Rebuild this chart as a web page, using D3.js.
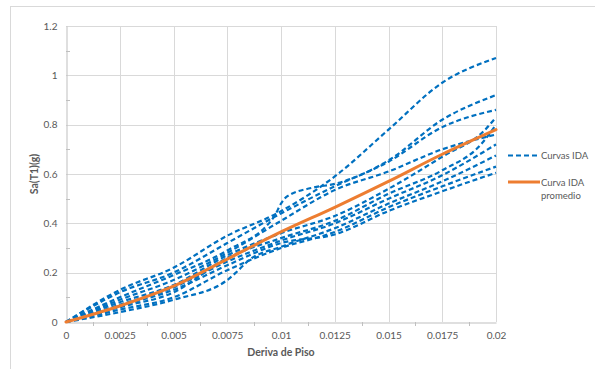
<!DOCTYPE html>
<html>
<head>
<meta charset="utf-8">
<script src="https://cdn.jsdelivr.net/npm/d3@7"></script>
<style>
  html, body { margin: 0; padding: 0; background: #fff; }
  svg { display: block; font-family: Lato, "Open Sans", sans-serif; }
</style>
</head>
<body>
<svg id="chart" width="595" height="369"></svg>
<script>
// Tick values for both axes
const xTicks = [0, 0.0025, 0.005, 0.0075, 0.01, 0.0125, 0.015, 0.0175, 0.02];
const xTickLabels = ["0", "0.0025", "0.005", "0.0075", "0.01", "0.0125", "0.015", "0.0175", "0.02"];
const yTicks = [0, 0.2, 0.4, 0.6, 0.8, 1, 1.2];
const yTickLabels = ["0", "0.2", "0.4", "0.6", "0.8", "1", "1.2"];

// Individual IDA curves: [story drift, Sa(T1) in g]
const ida01 = [[0,0],[0.0025,0.13],[0.005,0.22],[0.0075,0.35],[0.0098,0.44],[0.0125,0.59],[0.015,0.78],[0.0175,0.97],[0.02,1.07]];
const ida02 = [[0,0],[0.0025,0.10],[0.005,0.19],[0.0075,0.29],[0.0097,0.43],[0.0100,0.48],[0.0103,0.51],[0.0115,0.545],[0.0125,0.56],[0.015,0.655],[0.0175,0.82],[0.02,0.92]];
const ida03 = [[0,0],[0.0025,0.12],[0.005,0.20],[0.0075,0.32],[0.01,0.44],[0.0125,0.55],[0.015,0.65],[0.0175,0.79],[0.02,0.86]];
const ida04 = [[0,0],[0.0025,0.08],[0.005,0.15],[0.0075,0.27],[0.01,0.36],[0.0125,0.43],[0.015,0.54],[0.0175,0.67],[0.0195,0.78],[0.02,0.83]];
const ida05 = [[0,0],[0.0025,0.06],[0.005,0.12],[0.0075,0.26],[0.01,0.34],[0.0125,0.41],[0.015,0.52],[0.0175,0.615],[0.0193,0.72],[0.02,0.80]];
const ida06 = [[0,0],[0.0025,0.09],[0.005,0.17],[0.0075,0.28],[0.01,0.41],[0.0125,0.535],[0.015,0.61],[0.0175,0.70],[0.02,0.76]];
const ida07 = [[0,0],[0.0025,0.07],[0.005,0.14],[0.0075,0.245],[0.01,0.33],[0.0125,0.40],[0.015,0.50],[0.0175,0.595],[0.02,0.72]];
const ida08 = [[0,0],[0.0025,0.04],[0.005,0.09],[0.0075,0.17],[0.0079,0.20],[0.0085,0.25],[0.01,0.305],[0.0125,0.38],[0.015,0.48],[0.0175,0.57],[0.02,0.675]];
const ida09 = [[0,0],[0.0025,0.05],[0.005,0.10],[0.0075,0.21],[0.01,0.30],[0.0125,0.365],[0.015,0.465],[0.0175,0.55],[0.02,0.63]];
const ida10 = [[0,0],[0.0025,0.065],[0.005,0.13],[0.0075,0.23],[0.01,0.32],[0.0125,0.355],[0.015,0.45],[0.0175,0.53],[0.02,0.605]];
const idaCurves = [ida01, ida02, ida03, ida04, ida05, ida06, ida07, ida08, ida09, ida10];

// Mean IDA curve
const idaMean = [[0,0],[0.0025,0.065],[0.005,0.145],[0.0075,0.255],[0.01,0.365],[0.0125,0.465],[0.015,0.57],[0.0175,0.68],[0.02,0.78]];

const seriesNames = ["Curvas IDA", ["Curva IDA", "promedio"]];

const svg = d3.select("#chart");
const plot = { left: 66, right: 496, top: 26, bottom: 322 };
const blue = "#0070C0", orange = "#ED7D31";
const gridColor = "#d9d9d9", axisColor = "#bfbfbf", textColor = "#595959";

// Outer chart frame
svg.append("rect")
  .attr("x", 10.5).attr("y", 6.5)
  .attr("width", 620).attr("height", 400)
  .attr("fill", "#fff").attr("stroke", gridColor).attr("stroke-width", 1);

const x = d3.scaleLinear().domain([0, 0.02]).range([plot.left, plot.right]);
const y = d3.scaleLinear().domain([0, 1.2]).range([plot.bottom, plot.top]);

// Gridlines
const grid = svg.append("g");
grid.selectAll(".vg").data(xTicks.slice(1)).join("line")
  .attr("x1", d => Math.round(x(d)) + 0.5).attr("x2", d => Math.round(x(d)) + 0.5)
  .attr("y1", plot.top).attr("y2", plot.bottom)
  .attr("stroke", gridColor).attr("stroke-width", 1);
grid.selectAll(".hg").data(yTicks.slice(1)).join("line")
  .attr("x1", plot.left).attr("x2", plot.right)
  .attr("y1", d => Math.round(y(d)) + 0.5).attr("y2", d => Math.round(y(d)) + 0.5)
  .attr("stroke", gridColor).attr("stroke-width", 1);

// Axes
const xAxis = d3.axisBottom(x).tickValues(xTicks)
  .tickFormat((d, i) => xTickLabels[i]).tickSize(0).tickPadding(9);
const yAxis = d3.axisLeft(y).tickValues(yTicks)
  .tickFormat((d, i) => yTickLabels[i]).tickSize(0).tickPadding(9);

const gx = svg.append("g").attr("transform", `translate(0,${plot.bottom + 0.5})`).call(xAxis);
const gy = svg.append("g").attr("transform", `translate(${plot.left + 0.5},0)`).call(yAxis);
[gx, gy].forEach(g => {
  g.select(".domain").attr("stroke", axisColor);
  g.selectAll("text").attr("fill", textColor).attr("font-size", "10px")
    .attr("font-family", "Lato, 'Open Sans', sans-serif");
});

// Minor tick marks
const xMinor = d3.range(0.00125, 0.02, 0.0025);
svg.append("g").selectAll("line").data(xMinor).join("line")
  .attr("x1", d => Math.round(x(d)) + 0.5).attr("x2", d => Math.round(x(d)) + 0.5)
  .attr("y1", plot.bottom).attr("y2", plot.bottom + 4)
  .attr("stroke", axisColor);
const yMinor = d3.range(0.1, 1.2, 0.2);
svg.append("g").selectAll("line").data(yMinor).join("line")
  .attr("x1", plot.left).attr("x2", plot.left + 4)
  .attr("y1", d => Math.round(y(d)) + 0.5).attr("y2", d => Math.round(y(d)) + 0.5)
  .attr("stroke", axisColor);

// Axis titles
svg.append("text")
  .attr("x", (plot.left + plot.right) / 2).attr("y", 356)
  .attr("text-anchor", "middle").attr("font-size", "10.5px").attr("font-weight", "bold")
  .attr("fill", textColor).text("Deriva de Piso");
svg.append("text")
  .attr("transform", `translate(38,${(plot.top + plot.bottom) / 2}) rotate(-90)`)
  .attr("text-anchor", "middle").attr("font-size", "10.5px").attr("font-weight", "bold")
  .attr("fill", textColor).text("Sa(T1)(g)");

// Curves
const line = d3.line()
  .x(d => x(d[0])).y(d => y(d[1]))
  .curve(d3.curveMonotoneX);

svg.append("g").selectAll("path").data(idaCurves).join("path")
  .attr("d", line)
  .attr("fill", "none").attr("stroke", blue)
  .attr("stroke-width", 2.2).attr("stroke-dasharray", "5,3");

svg.append("path").datum(idaMean)
  .attr("d", line)
  .attr("fill", "none").attr("stroke", orange)
  .attr("stroke-width", 3).attr("stroke-linecap", "round");

// Legend
const legend = svg.append("g");
legend.append("line")
  .attr("x1", 508).attr("x2", 540).attr("y1", 155.5).attr("y2", 155.5)
  .attr("stroke", blue).attr("stroke-width", 2.2).attr("stroke-dasharray", "5,3");
legend.append("text")
  .attr("x", 541).attr("y", 159).attr("font-size", "9.5px").attr("fill", textColor)
  .text(seriesNames[0]);
legend.append("line")
  .attr("x1", 508).attr("x2", 540).attr("y1", 182).attr("y2", 182)
  .attr("stroke", orange).attr("stroke-width", 3);
legend.append("text")
  .attr("x", 541).attr("y", 185.5).attr("font-size", "9.5px").attr("fill", textColor)
  .text(seriesNames[1][0]);
legend.append("text")
  .attr("x", 541).attr("y", 199).attr("font-size", "9.5px").attr("fill", textColor)
  .text(seriesNames[1][1]);
</script>
</body>
</html>
